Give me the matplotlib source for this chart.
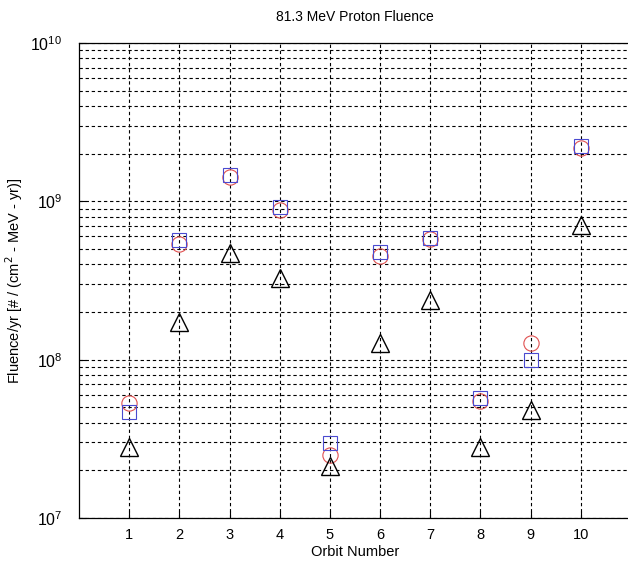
import matplotlib.pyplot as plt
import numpy as np

plt.rcParams['font.family'] = ['Liberation Sans', 'DejaVu Sans']

orbit = [1, 2, 3, 4, 5, 6, 7, 8, 9, 10]
blue_sq = [4.7e7, 5.7e8, 1.47e9, 9.2e8, 2.97e7, 4.8e8, 5.9e8, 5.7e7, 9.9e7, 2.23e9]
red_circ = [5.3e7, 5.4e8, 1.42e9, 8.8e8, 2.5e7, 4.5e8, 5.8e8, 5.5e7, 1.27e8, 2.17e9]
black_tri = [2.8e7, 1.73e8, 4.7e8, 3.3e8, 2.13e7, 1.27e8, 2.38e8, 2.8e7, 4.8e7, 7.1e8]

fig = plt.figure(figsize=(6.28, 5.71), dpi=100)
ax = fig.add_axes([79 / 628, 53 / 571, 552 / 628, 475 / 571])

ax.plot(orbit, red_circ, 'o', ms=11, mfc='none', mec='#e05050', mew=0.8)
ax.plot(orbit, blue_sq, 's', ms=10.5, mfc='none', mec='#4a4ad0', mew=0.8)
ax.plot(orbit, black_tri, '^', ms=12.5, mfc='none', mec='black', mew=1.0)

ax.set_yscale('log')
ax.set_ylim(1e7, 1e10)
ax.set_xlim(0, 11)
ax.set_xticks(orbit)
ax.set_yticks([1e7, 1e8, 1e9, 1e10])

ax.grid(True, which='major', axis='both', color='black', linestyle=(0, (3, 2.5)), linewidth=0.8)
ax.grid(True, which='minor', axis='y', color='black', linestyle=(0, (3, 2.5)), linewidth=0.8)
ax.tick_params(axis='both', which='both', direction='in')
ax.tick_params(axis='both', which='minor', length=0)
ax.tick_params(axis='x', which='major', length=5, pad=7, labelsize=10.5)
ax.tick_params(axis='y', which='major', length=5, pad=12, labelsize=11.5)
ax.spines['right'].set_visible(False)
for s in ['left', 'top', 'bottom']:
    ax.spines[s].set_linewidth(0.9)

ax.set_title('81.3 MeV Proton Fluence', fontsize=10, pad=16)
ax.set_xlabel('Orbit Number', fontsize=10.5, labelpad=2)
ax.set_ylabel('Fluence/yr [# / (cm$^2$ - MeV - yr)]', fontsize=10.5)
ax.yaxis.set_label_coords(-0.098, 0.5)

fig.savefig('out.png', dpi=100)
